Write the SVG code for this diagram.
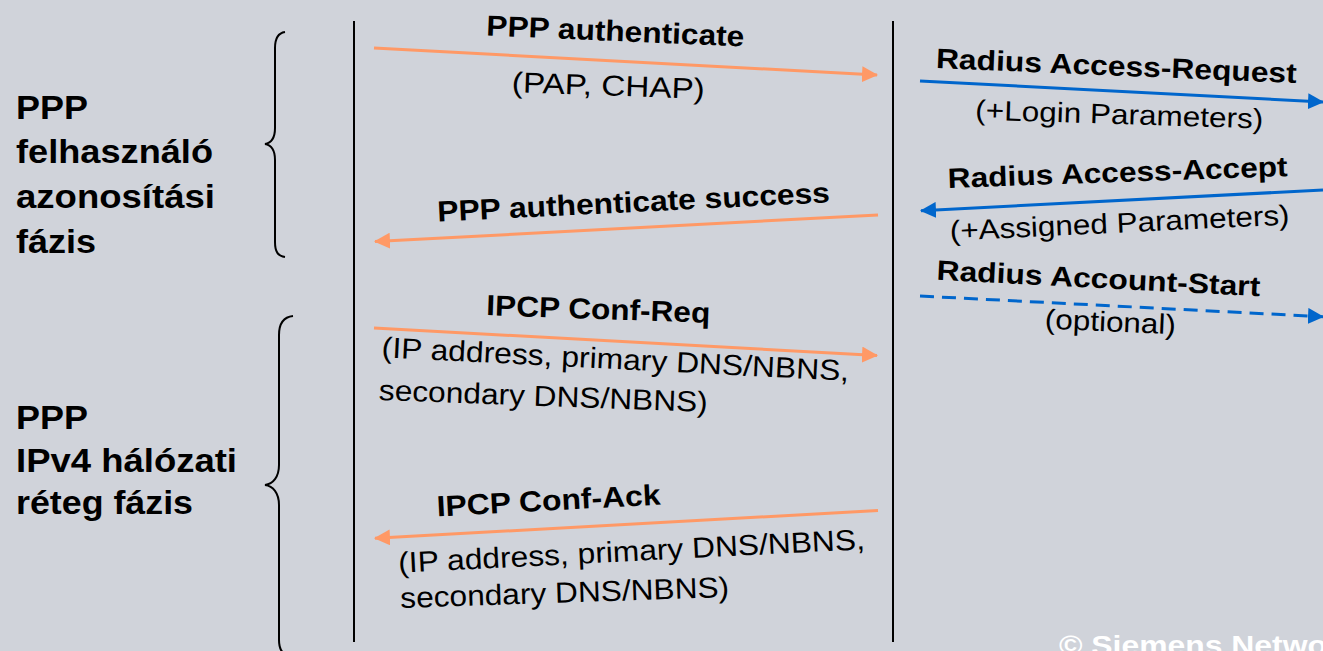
<svg xmlns="http://www.w3.org/2000/svg" width="1323" height="651" viewBox="0 0 1323 651">
  <style>
    .lbl { font-family: "Liberation Sans", Arial, sans-serif; fill: #000; }
    .b { font-weight: bold; }
    .phase { font-family: "Liberation Sans", Arial, sans-serif; font-weight: bold; font-size: 34px; fill: #000; }
    .msg { font-size: 29px; }
    .rad { font-size: 28px; }
    .life { stroke: #000; stroke-width: 2; fill: none; }
    .brace { stroke: #000; stroke-width: 2; fill: none; }
    .ppp { stroke: #FF9966; stroke-width: 3; fill: none; marker-end: url(#headOrange); }
    .radius { stroke: #0066CC; stroke-width: 3; fill: none; marker-end: url(#headBlue); }
    .dashed { stroke-dasharray: 14 8; }
  </style>
  <defs>
    <marker id="headOrange" markerUnits="userSpaceOnUse" markerWidth="16" markerHeight="16" refX="15" refY="8" orient="auto">
      <path d="M0,0 L16,8 L0,16 z" fill="#FF9966"/>
    </marker>
    <marker id="headBlue" markerUnits="userSpaceOnUse" markerWidth="16" markerHeight="16" refX="15" refY="8" orient="auto">
      <path d="M0,0 L16,8 L0,16 z" fill="#0066CC"/>
    </marker>
  </defs>

  <rect width="1323" height="651" fill="#D0D3DA"/>

  <!-- phase labels with braces -->
  <g id="phase-auth">
    <text class="phase" x="16" y="119" textLength="72" lengthAdjust="spacingAndGlyphs">PPP</text>
    <text class="phase" x="16" y="163" textLength="197" lengthAdjust="spacingAndGlyphs">felhasználó</text>
    <text class="phase" x="16" y="208" textLength="199" lengthAdjust="spacingAndGlyphs">azonosítási</text>
    <text class="phase" x="16" y="253" textLength="80" lengthAdjust="spacingAndGlyphs">fázis</text>
    <path class="brace" d="M285,32 C278,33 275,38 275,48 L275,128 C275,138 271,143 265,144 C271,145 275,150 275,160 L275,242 C275,252 278,256 285,257"/>
  </g>
  <g id="phase-ipcp">
    <text class="phase" x="16" y="429" textLength="72" lengthAdjust="spacingAndGlyphs">PPP</text>
    <text class="phase" x="16" y="472" textLength="221" lengthAdjust="spacingAndGlyphs">IPv4 hálózati</text>
    <text class="phase" x="16" y="514" textLength="177" lengthAdjust="spacingAndGlyphs">réteg fázis</text>
    <path class="brace" d="M293,316 C284,317 279,323 279,335 L279,465 C279,477 273,484 265,485 C273,486 279,493 279,505 L279,640 C279,650 283,655 290,656"/>
  </g>

  <!-- lifelines -->
  <g id="lifeline-client"><line class="life" x1="354" y1="21" x2="354" y2="642"/></g>
  <g id="lifeline-bras"><line class="life" x1="893" y1="21" x2="893" y2="642"/></g>

  <!-- messages -->
  <g id="connectors">
    <line class="ppp" x1="374" y1="48" x2="877" y2="75"/>
    <line class="ppp" x1="878" y1="215" x2="375" y2="241.5"/>
    <line class="ppp" x1="374" y1="328" x2="877" y2="355.4"/>
    <line class="ppp" x1="878" y1="510.6" x2="375" y2="538.2"/>
    <line class="radius" x1="920" y1="81" x2="1323" y2="102"/>
    <line class="radius" x1="1323" y1="190" x2="921" y2="210.7"/>
    <line class="radius dashed" x1="920" y1="296" x2="1323" y2="316.7"/>
  </g>

  <g id="msg-ppp-auth">
    <text class="lbl b msg" x="615" y="41" text-anchor="middle" textLength="258" lengthAdjust="spacingAndGlyphs" transform="rotate(2.4 615 41)">PPP authenticate</text>
    <text class="lbl msg" x="608" y="95.5" text-anchor="middle" textLength="193" lengthAdjust="spacingAndGlyphs" transform="rotate(2 608 95.5)">(PAP, CHAP)</text>
  </g>
  <g id="msg-ppp-success">
    <text class="lbl b msg" x="634" y="212" text-anchor="middle" textLength="393" lengthAdjust="spacingAndGlyphs" transform="rotate(-2.8 634 212)">PPP authenticate success</text>
  </g>
  <g id="msg-radius-request">
    <text class="lbl b rad" x="1116" y="75.5" text-anchor="middle" textLength="361" lengthAdjust="spacingAndGlyphs" transform="rotate(2.4 1116 75.5)">Radius Access-Request</text>
    <text class="lbl rad" x="1119" y="124" text-anchor="middle" textLength="288" lengthAdjust="spacingAndGlyphs" transform="rotate(1.8 1119 124)">(+Login Parameters)</text>
  </g>
  <g id="msg-radius-accept">
    <text class="lbl b rad" x="1118" y="182" text-anchor="middle" textLength="340" lengthAdjust="spacingAndGlyphs" transform="rotate(-2 1118 182)">Radius Access-Accept</text>
    <text class="lbl rad" x="1120" y="232.5" text-anchor="middle" textLength="340" lengthAdjust="spacingAndGlyphs" transform="rotate(-2.7 1120 232.5)">(+Assigned Parameters)</text>
  </g>
  <g id="msg-radius-account">
    <text class="lbl b rad" x="1098" y="288" text-anchor="middle" textLength="324" lengthAdjust="spacingAndGlyphs" transform="rotate(2.9 1098 288)">Radius Account-Start</text>
    <text class="lbl rad" x="1110" y="331.5" text-anchor="middle" textLength="131" lengthAdjust="spacingAndGlyphs" transform="rotate(2.5 1110 331.5)">(optional)</text>
  </g>
  <g id="msg-ipcp-req">
    <text class="lbl b msg" x="598" y="319" text-anchor="middle" textLength="224" lengthAdjust="spacingAndGlyphs" transform="rotate(2 598 319)">IPCP Conf-Req</text>
    <text class="lbl msg" x="615" y="369" text-anchor="middle" textLength="468" lengthAdjust="spacingAndGlyphs" transform="rotate(2.9 615 369)">(IP address, primary DNS/NBNS,</text>
    <text class="lbl msg" x="543" y="406" text-anchor="middle" textLength="329" lengthAdjust="spacingAndGlyphs" transform="rotate(2.1 543 406)">secondary DNS/NBNS)</text>
  </g>
  <g id="msg-ipcp-ack">
    <text class="lbl b msg" x="549" y="510.5" text-anchor="middle" textLength="224" lengthAdjust="spacingAndGlyphs" transform="rotate(-3 549 510.5)">IPCP Conf-Ack</text>
    <text class="lbl msg" x="632" y="561" text-anchor="middle" textLength="467" lengthAdjust="spacingAndGlyphs" transform="rotate(-2.9 632 561)">(IP address, primary DNS/NBNS,</text>
    <text class="lbl msg" x="565" y="602.5" text-anchor="middle" textLength="329" lengthAdjust="spacingAndGlyphs" transform="rotate(-1.9 565 602.5)">secondary DNS/NBNS)</text>
  </g>

  <!-- footer -->
  <g id="copyright">
    <text x="1059" y="655" font-family="Liberation Sans, Arial, sans-serif" font-weight="bold" font-size="28" fill="#FFFFFF" textLength="268" lengthAdjust="spacingAndGlyphs">© Siemens Netwo</text>
  </g>
</svg>
